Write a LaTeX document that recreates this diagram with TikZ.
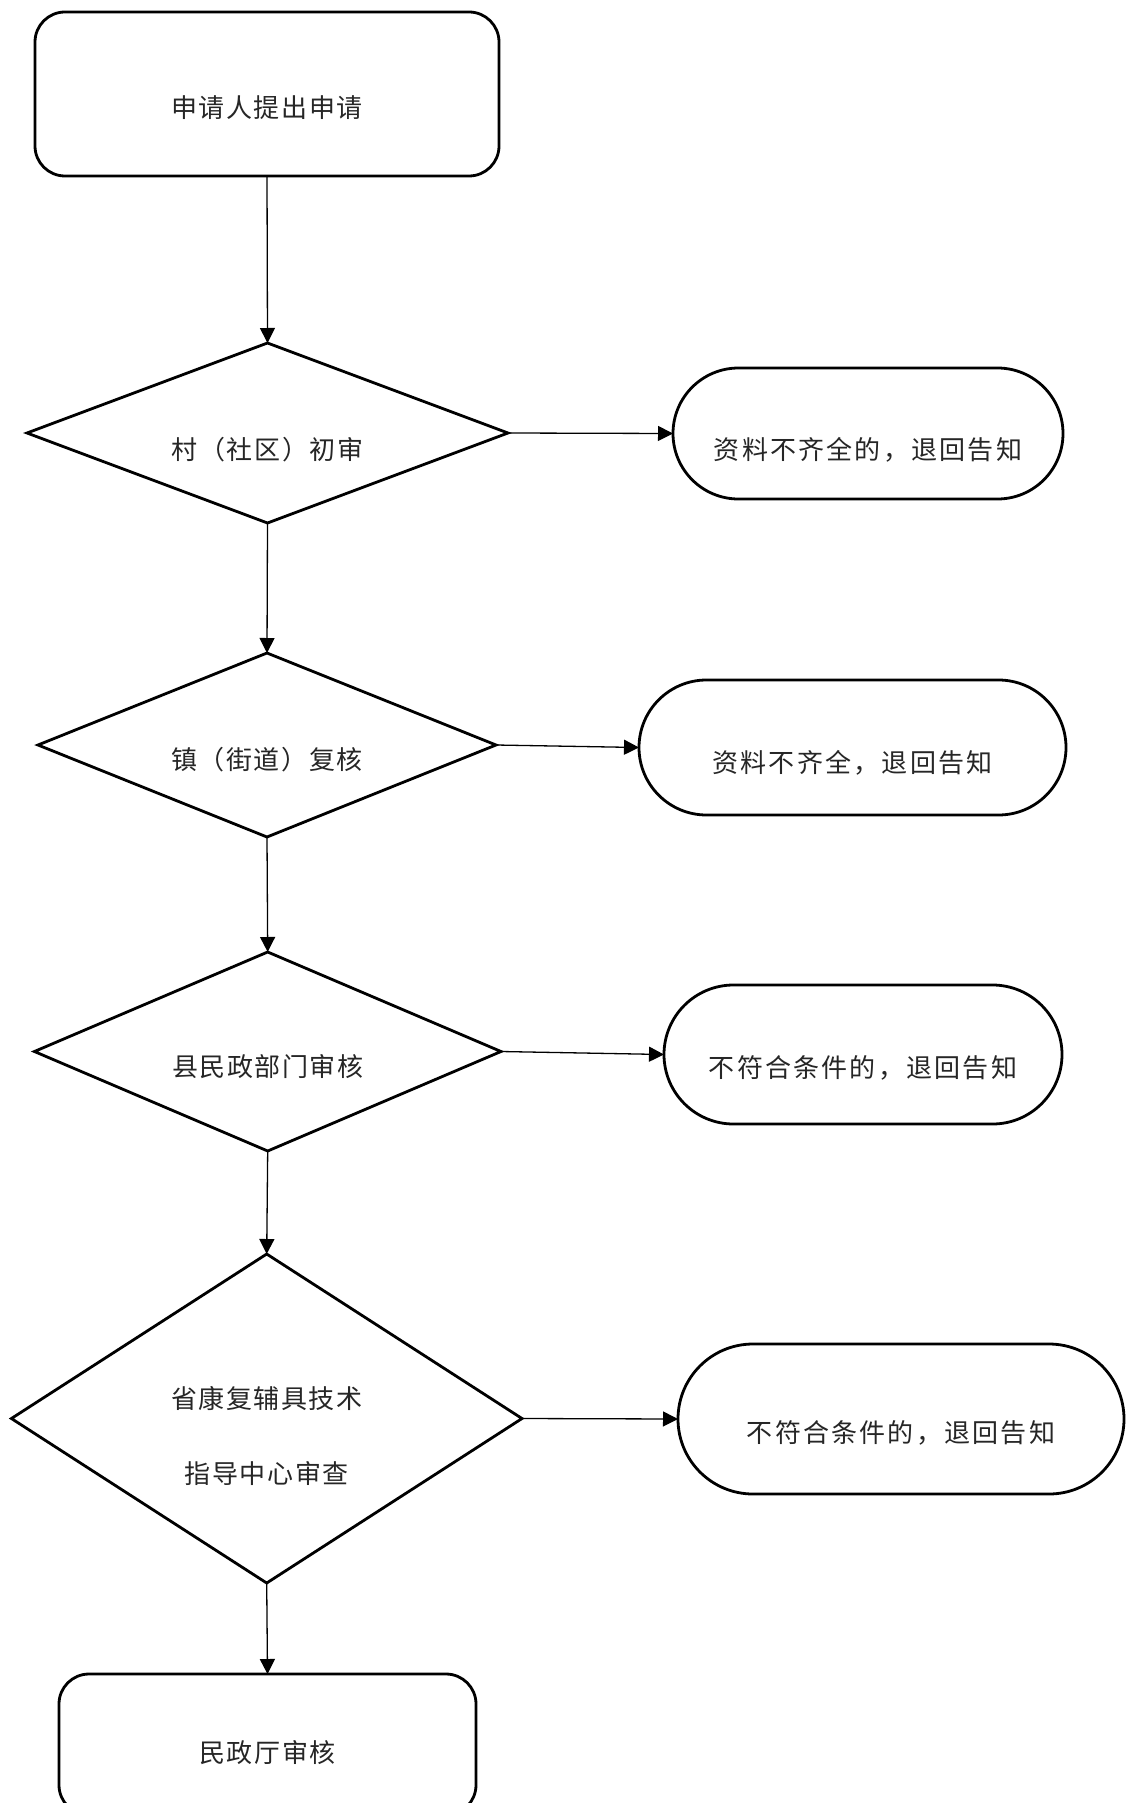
\documentclass[tikz,border=0pt]{standalone}
\usepackage{fontspec}
\newfontfamily\cjkmain[LetterSpace=6]{Noto Sans CJK SC}
\newfontfamily\cjkwide[LetterSpace=8.5]{Noto Sans CJK SC}
\usetikzlibrary{arrows.meta,shapes.geometric,shapes.misc}

\begin{document}
\begin{tikzpicture}[x=0.5pt,y=-0.5pt,
  box/.style={draw, line width=1.4pt, rectangle, rounded corners=15pt, inner sep=0pt, outer sep=0pt},
  decision/.style={draw, line width=1.4pt, diamond, inner sep=0pt, outer sep=0pt},
  pill/.style={draw, line width=1.4pt, rounded rectangle, inner sep=0pt, outer sep=0pt},
  boxtext/.style={font=\cjkmain\fontsize{13pt}{37.5pt}\selectfont, text=black!85, inner sep=0pt, align=center},
  pilltext/.style={font=\cjkwide\fontsize{13pt}{16pt}\selectfont, text=black!85, inner sep=0pt},
  flow/.style={line width=0.65pt, -{Triangle[length=7.5pt,width=7.5pt]}}]

% page
\clip (0,0) rectangle (1126,1803);
\fill[white] (0,0) rectangle (1126,1803);

% main column
\node[box, minimum width=232pt, minimum height=82pt] (start) at (267,94) {};
\node[decision, minimum width=240.5pt, minimum height=90pt] (d1) at (267.5,433) {};
\node[decision, minimum width=229pt, minimum height=92pt] (d2) at (267,745) {};
\node[decision, minimum width=233.3pt, minimum height=99.5pt] (d3) at (267.7,1051.5) {};
\node[decision, minimum width=255.3pt, minimum height=164.5pt] (d4) at (266.7,1418.5) {};
\node[box, minimum width=208.5pt, minimum height=70.5pt] (final) at (267.5,1744.5) {};

% return notices
\node[pill, minimum width=195pt, minimum height=65.5pt] (p1) at (868,433.5) {};
\node[pill, minimum width=213.5pt, minimum height=67.5pt] (p2) at (852.5,747.5) {};
\node[pill, minimum width=199pt, minimum height=69.5pt] (p3) at (863,1054.5) {};
\node[pill, minimum width=223pt, minimum height=75pt] (p4) at (901,1419) {};

% labels
\node[boxtext] (t0) at (267,108) {申请人提出申请};
\node[boxtext] (t1) at (267.5,450) {村（社区）初审};
\node[boxtext] (t2) at (267,760) {镇（街道）复核};
\node[boxtext] (t3) at (267.7,1067) {县民政部门审核};
\node[boxtext] (t4) at (266.7,1435.5) {省康复辅具技术\\指导中心审查};
\node[boxtext] (t5) at (267.5,1753) {民政厅审核};

\node[pilltext] (r1) at (868,450) {资料不齐全的，退回告知};
\node[pilltext] (r2) at (852.5,763) {资料不齐全，退回告知};
\node[pilltext] (r3) at (863,1068) {不符合条件的，退回告知};
\node[pilltext] (r4) at (901,1433) {不符合条件的，退回告知};

% connectors
\draw[flow] (start.south) -- (d1.north);
\draw[flow] (d1.south) -- (d2.north);
\draw[flow] (d2.south) -- (d3.north);
\draw[flow] (d3.south) -- (d4.north);
\draw[flow] (d4.south) -- (final.north);

\draw[flow] (d1.east) -- (p1.west);
\draw[flow] (d2.east) -- (p2.west);
\draw[flow] (d3.east) -- (p3.west);
\draw[flow] (d4.east) -- (p4.west);
\end{tikzpicture}
\end{document}
